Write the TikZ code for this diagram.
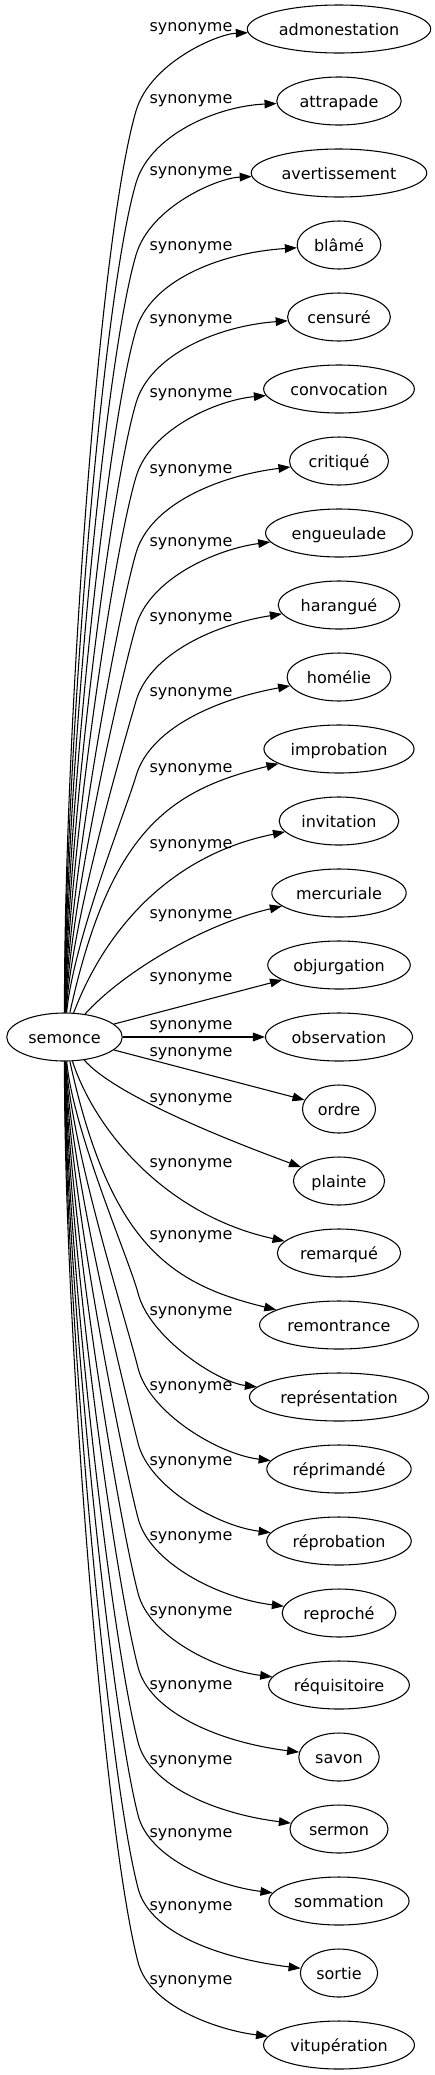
\documentclass[tikz,border=0pt]{standalone}
\usepackage{fontspec}
\setmainfont{DejaVu Sans}
\usetikzlibrary{shapes.geometric,arrows.meta}

\tikzset{
  ->/.style={draw=black,line width=0.8pt,-{Triangle[length=9pt,width=6.5pt]}},
  word/.style={draw=black,line width=0.8pt,ellipse,minimum height=36pt,inner xsep=3.5pt,inner ysep=0pt,text height=12pt,text depth=3pt}
}
\tikzstyle{every node}=[color=black,font=\fontsize{12pt}{14pt}\selectfont]

\begin{document}
\begin{tikzpicture}[x=0.75pt,y=-0.75pt]
    \useasboundingbox (0,0) rectangle (435,2075);
    \node[word] (semonce) at (64.5,1037) {semonce};
    % synonymes
    \node[word] (admonestation) at (339,29) {admonestation};
    \node[word] (attrapade) at (339,101) {attrapade};
    \node[word] (avertissement) at (339,173) {avertissement};
    \node[word] (blame) at (339,245) {blâmé};
    \node[word] (censure) at (339,317) {censuré};
    \node[word] (convocation) at (339,389) {convocation};
    \node[word] (critique) at (339,461) {critiqué};
    \node[word] (engueulade) at (339,533) {engueulade};
    \node[word] (harangue) at (339,605) {harangué};
    \node[word] (homelie) at (339,677) {homélie};
    \node[word] (improbation) at (339,749) {improbation};
    \node[word] (invitation) at (339,821) {invitation};
    \node[word] (mercuriale) at (339,893) {mercuriale};
    \node[word] (objurgation) at (339,965) {objurgation};
    \node[word] (observation) at (339,1037) {observation};
    \node[word] (ordre) at (339,1109) {ordre};
    \node[word] (plainte) at (339,1181) {plainte};
    \node[word] (remarque) at (339,1253) {remarqué};
    \node[word] (remontrance) at (339,1325) {remontrance};
    \node[word] (representation) at (339,1397) {représentation};
    \node[word] (reprimande) at (339,1469) {réprimandé};
    \node[word] (reprobation) at (339,1541) {réprobation};
    \node[word] (reproche) at (339,1613) {reproché};
    \node[word] (requisitoire) at (339,1685) {réquisitoire};
    \node[word] (savon) at (339,1757) {savon};
    \node[word] (sermon) at (339,1829) {sermon};
    \node[word] (sommation) at (339,1901) {sommation};
    \node[word] (sortie) at (339,1973) {sortie};
    \node[word] (vituperation) at (339,2045) {vitupération};
    % edge labels
    \node (syn1) at (191,29) {synonyme};
    \node (syn2) at (191,101) {synonyme};
    \node (syn3) at (191,173) {synonyme};
    \node (syn4) at (191,248) {synonyme};
    \node (syn5) at (191,321) {synonyme};
    \node (syn6) at (191,395) {synonyme};
    \node (syn7) at (191,471) {synonyme};
    \node (syn8) at (191,544) {synonyme};
    \node (syn9) at (191,619) {synonyme};
    \node (syn10) at (191,694) {synonyme};
    \node (syn11) at (191,770) {synonyme};
    \node (syn12) at (191,846) {synonyme};
    \node (syn13) at (191,916) {synonyme};
    \node (syn14) at (191,979) {synonyme};
    \node (syn15) at (191,1027) {synonyme};
    \node (syn16) at (191,1054) {synonyme};
    \node (syn17) at (191,1100) {synonyme};
    \node (syn18) at (191,1165) {synonyme};
    \node (syn19) at (191,1237) {synonyme};
    \node (syn20) at (191,1313) {synonyme};
    \node (syn21) at (191,1388) {synonyme};
    \node (syn22) at (191,1463) {synonyme};
    \node (syn23) at (191,1538) {synonyme};
    \node (syn24) at (191,1613) {synonyme};
    \node (syn25) at (191,1687) {synonyme};
    \node (syn26) at (191,1762) {synonyme};
    \node (syn27) at (191,1835) {synonyme};
    \node (syn28) at (191,1908) {synonyme};
    \node (syn29) at (191,1982) {synonyme};
    % edges
    \draw [->] (semonce) .. controls (64,742) and (98,241) .. (136,111) .. controls (150,63) and (217,34) .. (admonestation);
    \draw [->] (semonce) .. controls (65,764) and (101,303) .. (136,183) .. controls (150,135) and (217,106) .. (attrapade);
    \draw [->] (semonce) .. controls (66,786) and (104,364) .. (136,255) .. controls (150,207) and (217,178) .. (avertissement);
    \draw [->] (semonce) .. controls (67,808) and (107,428) .. (136,330) .. controls (150,282) and (217,253) .. (blame);
    \draw [->] (semonce) .. controls (68,830) and (110,491) .. (136,403) .. controls (150,355) and (217,326) .. (censure);
    \draw [->] (semonce) .. controls (69,852) and (113,554) .. (136,477) .. controls (150,429) and (217,400) .. (convocation);
    \draw [->] (semonce) .. controls (70,875) and (117,619) .. (136,553) .. controls (150,505) and (217,476) .. (critique);
    \draw [->] (semonce) .. controls (71,897) and (120,682) .. (136,626) .. controls (150,578) and (217,549) .. (engueulade);
    \draw [->] (semonce) .. controls (72,919) and (123,746) .. (136,701) .. controls (150,653) and (217,624) .. (harangue);
    \draw [->] (semonce) .. controls (73,942) and (126,810) .. (136,776) .. controls (150,728) and (217,699) .. (homelie);
    \draw [->] (semonce) .. controls (110,830) and (170,790) .. (improbation);
    \draw [->] (semonce) .. controls (105,930) and (170,855) .. (invitation);
    \draw [->] (semonce) .. controls (120,975) and (200,925) .. (mercuriale);
    \draw [->] (semonce) -- (objurgation);
    \draw [->] (semonce) -- (observation);
    \draw [->] (semonce) -- (ordre);
    \draw [->] (semonce) .. controls (110,1090) and (200,1130) .. (plainte);
    \draw [->] (semonce) .. controls (95,1130) and (165,1215) .. (remarque);
    \draw [->] (semonce) .. controls (110,1244) and (170,1284) .. (remontrance);
    \draw [->] (semonce) .. controls (73,1131) and (129,1259) .. (138,1293) .. controls (149,1337) and (217,1382) .. (representation);
    \draw [->] (semonce) .. controls (72,1153) and (127,1323) .. (138,1368) .. controls (149,1412) and (217,1454) .. (reprimande);
    \draw [->] (semonce) .. controls (71,1176) and (124,1387) .. (138,1443) .. controls (149,1487) and (217,1526) .. (reprobation);
    \draw [->] (semonce) .. controls (70,1198) and (121,1452) .. (138,1518) .. controls (149,1562) and (217,1598) .. (reproche);
    \draw [->] (semonce) .. controls (69,1221) and (118,1516) .. (138,1593) .. controls (149,1637) and (217,1670) .. (requisitoire);
    \draw [->] (semonce) .. controls (68,1243) and (115,1579) .. (138,1667) .. controls (149,1711) and (217,1742) .. (savon);
    \draw [->] (semonce) .. controls (67,1265) and (112,1643) .. (138,1742) .. controls (149,1786) and (217,1814) .. (sermon);
    \draw [->] (semonce) .. controls (66,1287) and (110,1705) .. (138,1815) .. controls (149,1859) and (217,1886) .. (sommation);
    \draw [->] (semonce) .. controls (65,1309) and (107,1768) .. (138,1888) .. controls (149,1932) and (217,1958) .. (sortie);
    \draw [->] (semonce) .. controls (64,1331) and (104,1831) .. (138,1962) .. controls (149,2006) and (217,2030) .. (vituperation);
\end{tikzpicture}
\end{document}
